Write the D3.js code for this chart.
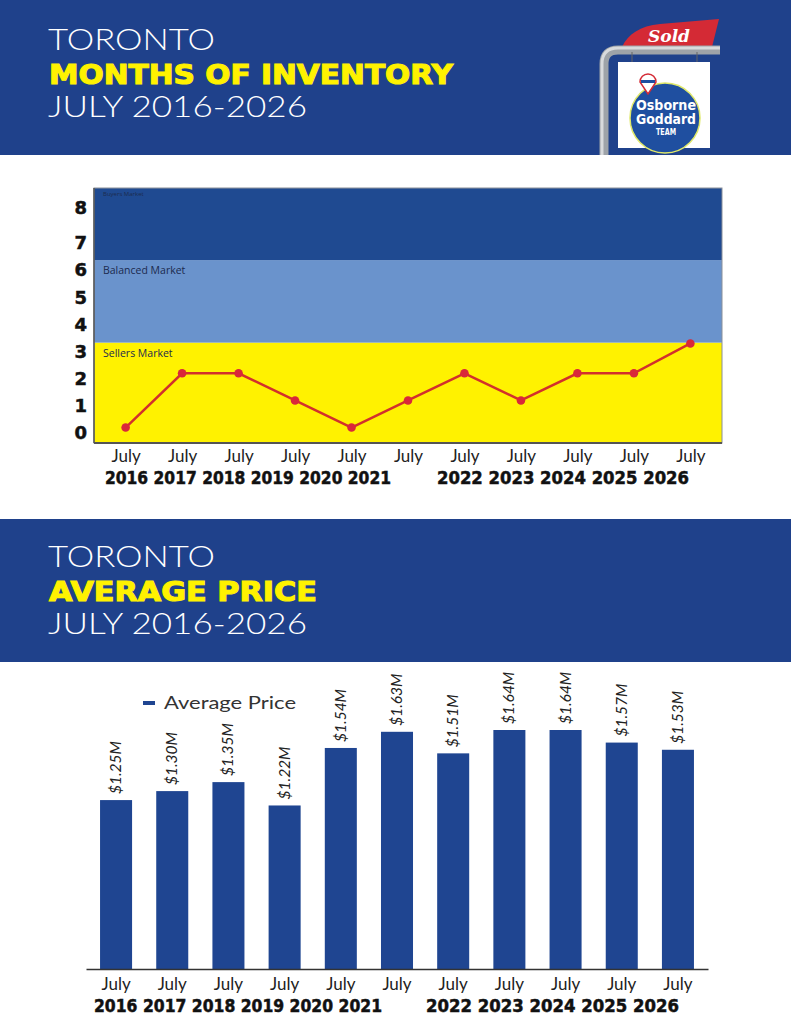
<!DOCTYPE html>
<html lang="en">
<head>
<meta charset="utf-8">
<title>Toronto Months of Inventory / Average Price</title>
<script src="https://cdn.jsdelivr.net/npm/d3@7"></script>
<style>
  html, body { margin: 0; padding: 0; background: #ffffff; }
  svg { display: block; }
</style>
</head>
<body>
<svg id="page"></svg>
<script>
// ---- data ----
const years = ["2016", "2017", "2018", "2019", "2020", "2021", "2022", "2023", "2024", "2025", "2026"];
const monthLabel = "July";
const inventory = [0.2, 2.2, 2.2, 1.2, 0.2, 1.2, 2.2, 1.2, 2.2, 2.2, 3.3];
const inventoryTicks = [0, 1, 2, 3, 4, 5, 6, 7, 8];
const marketNames = ["Sellers Market", "Balanced Market", "Buyers Market"];
const marketLimits = [[-0.37, 3.33], [3.33, 6.37], [6.37, 8.57]];
const avgPrice = [1.25, 1.30, 1.35, 1.22, 1.54, 1.63, 1.51, 1.64, 1.64, 1.57, 1.53];
const seriesName = "Average Price";

const width = 791;
const height = 1024;
const navy = "#1f418b";
const yellow = "#fff200";

const svg = d3.select("#page")
    .attr("width", width)
    .attr("height", height);

svg.append("rect").attr("width", width).attr("height", height).attr("fill", "#fff");

// ---- header bands ----
function header(top, line2) {
    svg.append("rect")
        .attr("x", 0).attr("y", top)
        .attr("width", width).attr("height", 143 + (top === 0 ? 12 : 0))
        .attr("fill", navy);
    const off = top === 0 ? 2 : 0;
    svg.append("text")
        .attr("x", 48).attr("y", top + 48 + off)
        .attr("fill", "#fff")
        .style("font-family", "Lato, 'Open Sans', sans-serif")
        .style("font-weight", 300)
        .style("font-size", "29px")
        .attr("textLength", 167).attr("lengthAdjust", "spacingAndGlyphs")
        .text("TORONTO");
    svg.append("text")
        .attr("x", 49).attr("y", top + 82 + off)
        .attr("fill", yellow)
        .attr("stroke", yellow).attr("stroke-width", 1.1)
        .style("font-family", "'DejaVu Sans', sans-serif")
        .style("font-weight", "bold")
        .style("font-size", "27px")
        .attr("textLength", line2 === "AVERAGE PRICE" ? 268 : 404)
        .attr("lengthAdjust", "spacingAndGlyphs")
        .text(line2);
    svg.append("text")
        .attr("x", 48).attr("y", top + 115 + off)
        .attr("fill", "#fff")
        .style("font-family", "Lato, 'Open Sans', sans-serif")
        .style("font-weight", 300)
        .style("font-size", "29px")
        .attr("textLength", 259).attr("lengthAdjust", "spacingAndGlyphs")
        .text("JULY 2016-2026");
}
header(0, "MONTHS OF INVENTORY");
header(519, "AVERAGE PRICE");

// ---- sold sign logo ----
const logo = svg.append("g");
logo.append("path")
    .attr("d", "M622,47 C628,34 640,26 660,24 L719,19 L712,47 Z")
    .attr("fill", "#d42a35");
logo.append("text")
    .attr("x", 669).attr("y", 42)
    .attr("text-anchor", "middle")
    .attr("fill", "#fff")
    .style("font-family", "'DejaVu Serif', serif")
    .style("font-style", "italic")
    .style("font-weight", "bold")
    .style("font-size", "17px")
    .text("Sold");
logo.append("path")
    .attr("d", "M604,155 L604,64 Q604,50 618,50 L720,50")
    .attr("fill", "none")
    .attr("stroke", "#9ea3a8")
    .attr("stroke-width", 9);
logo.append("path")
    .attr("d", "M602,155 L602,64 Q602,48 618,48 L720,48")
    .attr("fill", "none")
    .attr("stroke", "#d8dadc")
    .attr("stroke-width", 3);
logo.append("line").attr("x1", 632).attr("x2", 632).attr("y1", 52).attr("y2", 63).attr("stroke", "#666");
logo.append("line").attr("x1", 697).attr("x2", 697).attr("y1", 52).attr("y2", 63).attr("stroke", "#666");
logo.append("rect")
    .attr("x", 618).attr("y", 62)
    .attr("width", 92).attr("height", 86)
    .attr("fill", "#fff");
logo.append("circle")
    .attr("cx", 665).attr("cy", 118).attr("r", 35)
    .attr("fill", "#1f4fa0")
    .attr("stroke", "#dfe86a").attr("stroke-width", 1.5);
logo.append("path")
    .attr("d", "M640,82 A8,8 0 1,1 656,82 L648,94 Z")
    .attr("fill", "#fff").attr("stroke", "#d42a35").attr("stroke-width", 1.5);
logo.append("rect")
    .attr("x", 641).attr("y", 80).attr("width", 14).attr("height", 3)
    .attr("fill", "#1f4fa0");
[["Osborne", 110, 14], ["Goddard", 124, 14], ["TEAM", 135, 8]].forEach(t => {
    logo.append("text")
        .attr("x", 666).attr("y", t[1])
        .attr("text-anchor", "middle")
        .attr("fill", "#fff")
        .style("font-family", "'DejaVu Sans', sans-serif")
        .style("font-weight", "bold")
        .style("font-size", t[2] + "px")
        .attr("textLength", t[2] > 10 ? 60 : 20)
        .attr("lengthAdjust", "spacingAndGlyphs")
        .text(t[0]);
});

// ---- chart 1: months of inventory ----
const plot = { left: 94, right: 722, top: 188, bottom: 443 };

const x1 = d3.scalePoint()
    .domain(years)
    .range([plot.left, plot.right])
    .padding(0.56);

const y1 = d3.scaleLinear()
    .domain([0, 7, 8])
    .range([433, 243, 208]);

const bandFill = d3.scaleOrdinal()
    .domain(marketNames)
    .range([yellow, "#6a93cc", "#1f4a91"]);

const bands = svg.append("g");
bands.selectAll("rect")
    .data(marketNames)
    .enter()
    .append("rect")
    .attr("x", plot.left)
    .attr("width", plot.right - plot.left)
    .attr("y", (d, i) => y1(marketLimits[i][1]))
    .attr("height", (d, i) => y1(marketLimits[i][0]) - y1(marketLimits[i][1]))
    .attr("fill", d => bandFill(d));

bands.selectAll("text")
    .data(marketNames)
    .enter()
    .append("text")
    .attr("x", plot.left + 9)
    .attr("y", (d, i) => y1(marketLimits[i][1]) + (i === 2 ? 8 : 14))
    .attr("fill", "#1c2a4e")
    .style("font-family", "'Open Sans', sans-serif")
    .style("font-size", (d, i) => i === 2 ? "6px" : "10.5px")
    .text(d => d);

svg.append("rect")
    .attr("x", plot.left).attr("y", plot.top)
    .attr("width", plot.right - plot.left).attr("height", plot.bottom - plot.top)
    .attr("fill", "none")
    .attr("stroke", "#8a8f99").attr("stroke-width", 1);

const yAxis1 = svg.append("g")
    .attr("transform", `translate(${plot.left},0)`)
    .call(d3.axisLeft(y1).tickValues(inventoryTicks).tickSize(0).tickPadding(7).tickFormat(d3.format("d")));
yAxis1.select(".domain").attr("stroke", "#555").attr("stroke-width", 1.5)
    .attr("d", `M0,${plot.top}V${plot.bottom}`);
yAxis1.selectAll("text")
    .attr("fill", "#111")
    .attr("stroke", "#111").attr("stroke-width", 0.5)
    .style("font-family", "'DejaVu Sans', sans-serif")
    .style("font-weight", "bold")
    .style("font-size", "18px");

const xAxis1 = svg.append("g")
    .attr("transform", `translate(0,${plot.bottom})`)
    .call(d3.axisBottom(x1).tickSize(0).tickPadding(7).tickFormat(() => monthLabel));
xAxis1.select(".domain").attr("stroke", "#555").attr("stroke-width", 2)
    .attr("d", `M${plot.left},0H${plot.right}`);
xAxis1.selectAll("text")
    .attr("fill", "#222")
    .style("font-family", "Lato, 'Open Sans', sans-serif")
    .style("font-size", "17px");

const line = d3.line()
    .x((d, i) => x1(years[i]))
    .y(d => y1(d));

svg.append("path")
    .datum(inventory)
    .attr("d", line)
    .attr("fill", "none")
    .attr("stroke", "#d2302c")
    .attr("stroke-width", 2.5);

svg.selectAll(".dot")
    .data(inventory)
    .enter()
    .append("circle")
    .attr("class", "dot")
    .attr("cx", (d, i) => x1(years[i]))
    .attr("cy", d => y1(d))
    .attr("r", 4.3)
    .attr("fill", "#d9283a");

// year rows under the July labels
function yearRows(baseline, spans) {
    [years.slice(0, 6), years.slice(6)].forEach((grp, k) => {
        svg.append("text")
            .attr("x", spans[k][0]).attr("y", baseline)
            .attr("fill", "#111")
            .attr("stroke", "#111").attr("stroke-width", 0.5)
            .style("font-family", "'DejaVu Sans', sans-serif")
            .style("font-weight", "bold")
            .style("font-size", "17px")
            .attr("textLength", spans[k][1] - spans[k][0])
            .attr("lengthAdjust", "spacingAndGlyphs")
            .text(grp.join(" "));
    });
}
yearRows(484, [[105, 391], [437, 689]]);

// ---- chart 2: average price ----
const x2 = d3.scaleBand()
    .domain(years)
    .range([86, 708])
    .paddingInner(0.43)
    .paddingOuter(0.25);

const y2 = d3.scaleLinear()
    .domain([0.31, 1.64])
    .range([969, 730]);

const fmtPrice = v => "$" + d3.format(".2f")(v) + "M";

svg.selectAll(".bar")
    .data(avgPrice)
    .enter()
    .append("rect")
    .attr("class", "bar")
    .attr("x", (d, i) => x2(years[i]))
    .attr("width", x2.bandwidth())
    .attr("y", d => y2(d))
    .attr("height", d => y2.range()[0] - y2(d))
    .attr("fill", "#1f4591");

svg.selectAll(".barlabel")
    .data(avgPrice)
    .enter()
    .append("text")
    .attr("class", "barlabel")
    .attr("transform", (d, i) => `translate(${x2(years[i]) + x2.bandwidth() / 2 + 5},${y2(d) - 6}) rotate(-90)`)
    .attr("fill", "#222")
    .style("font-family", "Lato, 'Open Sans', sans-serif")
    .style("font-style", "italic")
    .style("font-size", "15.5px")
    .text(d => fmtPrice(d));

const xAxis2 = svg.append("g")
    .attr("transform", `translate(0,${y2.range()[0]})`)
    .call(d3.axisBottom(x2).tickSize(0).tickPadding(9).tickFormat(() => monthLabel));
xAxis2.select(".domain").attr("stroke", "#333").attr("stroke-width", 1.5);
xAxis2.selectAll("text")
    .attr("fill", "#222")
    .style("font-family", "Lato, 'Open Sans', sans-serif")
    .style("font-size", "17px");

yearRows(1012, [[94, 382], [426, 679]]);

// legend
svg.append("rect")
    .attr("x", 143).attr("y", 701)
    .attr("width", 12).attr("height", 4)
    .attr("fill", "#1f4591");
svg.append("text")
    .attr("x", 164).attr("y", 709)
    .attr("fill", "#333")
    .style("font-family", "Lato, 'Open Sans', sans-serif")
    .style("font-size", "18px")
    .attr("textLength", 132).attr("lengthAdjust", "spacingAndGlyphs")
    .text(seriesName);
</script>
</body>
</html>
